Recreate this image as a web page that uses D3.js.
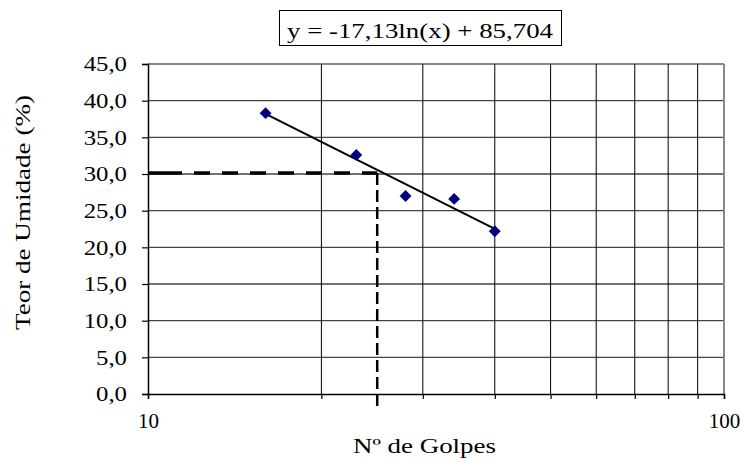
<!DOCTYPE html>
<html>
<head>
<meta charset="utf-8">
<script src="https://cdn.jsdelivr.net/npm/d3@7"></script>
<style>
  body { margin: 0; background: #fff; }
  svg text { font-family: "Liberation Serif", "Times New Roman", serif; fill: #000; }
</style>
</head>
<body>
<div id="chart"></div>
<script>
// measured points: number of blows vs moisture content
var golpes = [16, 23, 28, 34, 40];
var umidade = [38.3, 32.6, 27.0, 26.6, 22.2];

// logarithmic trendline shown in the label
var trendCoef = [-17.13, 85.704];
var trendRange = [16, 40];
var trendLabel = "y = -17,13ln(x) + 85,704";

// reading at 25 blows
var refGolpes = 25;
var refUmidade = 30.15;

var yTicks = [0, 5, 10, 15, 20, 25, 30, 35, 40, 45];
var xTicks = [10, 20, 30, 40, 50, 60, 70, 80, 90, 100];
var xLabels = [10, 100];

var W = 743, H = 459;
var margin = {top: 64, right: 19, bottom: 65, left: 148},
    width = W - margin.left - margin.right,
    height = H - margin.top - margin.bottom;

var svg = d3.select("#chart")
  .append("svg")
    .attr("width", W)
    .attr("height", H)
    .attr("font-family", "Liberation Serif");

var g = svg.append("g")
    .attr("transform", "translate(" + margin.left + "," + margin.top + ")");

var x = d3.scaleLog()
    .domain([10, 100])
    .range([0, width]);

var y = d3.scaleLinear()
    .domain([0, 45])
    .range([height, 0]);

var fmt = function(d) { return d3.format(".1f")(d).replace(".", ","); };

// horizontal grid
g.selectAll(".hgrid")
  .data(yTicks.filter(function(d) { return d > 0; }))
  .enter().append("line")
    .attr("class", "hgrid")
    .attr("x1", 0).attr("x2", width)
    .attr("y1", function(d) { return y(d); })
    .attr("y2", function(d) { return y(d); })
    .attr("stroke", function(d) { return d == 45 ? "#888" : "#444"; })
    .attr("stroke-width", function(d) { return d == 45 ? 2 : 1.3; });

// vertical grid
g.selectAll(".vgrid")
  .data(xTicks.filter(function(d) { return d > 10; }))
  .enter().append("line")
    .attr("class", "vgrid")
    .attr("x1", function(d) { return x(d); })
    .attr("x2", function(d) { return x(d); })
    .attr("y1", 0).attr("y2", height)
    .attr("stroke", function(d) { return d == 100 ? "#888" : "#000"; })
    .attr("stroke-width", function(d) { return d == 100 ? 2 : 1; });

// y axis
var yAxis = g.append("g")
    .call(d3.axisLeft(y).tickValues(yTicks).tickFormat(fmt).tickSize(6).tickPadding(15));
yAxis.attr("font-family", "Liberation Serif").attr("font-size", 21);
yAxis.select(".domain").attr("stroke", "#000").attr("stroke-width", 1.5);
yAxis.selectAll(".tick line").attr("stroke", "#000").attr("stroke-width", 1.2);
yAxis.selectAll("text")
    .style("font-size", "21px")
    .attr("textLength", function() { return this.getComputedTextLength() * 1.18; })
    .attr("lengthAdjust", "spacingAndGlyphs");

// x axis
var xAxis = g.append("g")
    .attr("transform", "translate(0," + height + ")")
    .call(d3.axisBottom(x).tickValues(xTicks)
      .tickFormat(function(d) { return xLabels.indexOf(d) >= 0 ? d : ""; })
      .tickSize(5).tickPadding(14));
xAxis.attr("font-family", "Liberation Serif").attr("font-size", 21);
xAxis.select(".domain").attr("stroke", "#000").attr("stroke-width", 1.5);
xAxis.selectAll(".tick line").attr("stroke", "#000").attr("stroke-width", 1.2);
xAxis.selectAll("text")
    .style("font-size", "21px");

// dashed reading lines
g.append("line")
    .attr("x1", x(10) + 1).attr("x2", x(refGolpes))
    .attr("y1", y(refUmidade)).attr("y2", y(refUmidade))
    .attr("stroke", "#000")
    .attr("stroke-width", 3.5)
    .attr("stroke-dasharray", "33,12,16,12,16,12,16,12,16,12,16,12,16,12,16,12,16");

g.append("line")
    .attr("x1", x(refGolpes)).attr("x2", x(refGolpes))
    .attr("y1", y(refUmidade)).attr("y2", height + 13)
    .attr("stroke", "#000")
    .attr("stroke-width", 2.5)
    .attr("stroke-dasharray", "12,5");

// trendline
var trendY = function(v) { return trendCoef[0] * Math.log(v) + trendCoef[1]; };
g.append("line")
    .attr("x1", x(trendRange[0])).attr("y1", y(trendY(trendRange[0])))
    .attr("x2", x(trendRange[1])).attr("y2", y(trendY(trendRange[1])))
    .attr("stroke", "#000")
    .attr("stroke-width", 2);

// markers
var diamond = d3.symbol().type(d3.symbolDiamond2).size(90);
g.selectAll(".pt")
  .data(golpes)
  .enter().append("path")
    .attr("class", "pt")
    .attr("d", diamond)
    .attr("transform", function(d, i) { return "translate(" + x(d) + "," + y(umidade[i]) + ")"; })
    .attr("fill", "#000080");

// equation label box
var lbl = svg.append("g");
lbl.append("rect")
    .attr("x", 279.5).attr("y", 10.5)
    .attr("width", 282).attr("height", 35)
    .attr("fill", "#fff")
    .attr("stroke", "#000")
    .attr("stroke-width", 1);
lbl.append("text")
    .attr("x", 420).attr("y", 38)
    .attr("text-anchor", "middle")
    .attr("textLength", 266)
    .attr("lengthAdjust", "spacingAndGlyphs")
    .style("font-size", "22px")
    .text(trendLabel);

// axis titles
svg.append("text")
    .attr("x", 424.5).attr("y", 453)
    .attr("text-anchor", "middle")
    .attr("textLength", 143)
    .attr("lengthAdjust", "spacingAndGlyphs")
    .style("font-size", "22px")
    .text("Nº de Golpes");

svg.append("text")
    .attr("transform", "translate(30,212.5) rotate(-90)")
    .attr("text-anchor", "middle")
    .attr("textLength", 235)
    .attr("lengthAdjust", "spacingAndGlyphs")
    .style("font-size", "22px")
    .text("Teor de Umidade (%)");
</script>
</body>
</html>
